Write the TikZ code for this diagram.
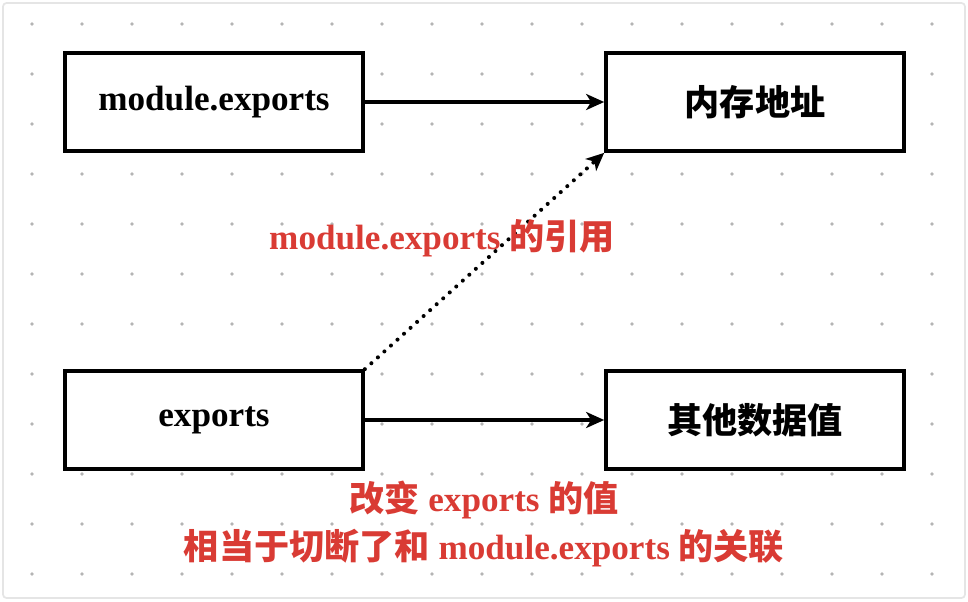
\documentclass[tikz,border=0pt]{standalone}
\usepackage{fontspec}
\setmainfont{Liberation Serif}
\newfontfamily\cjk{Noto Sans CJK SC}
\usetikzlibrary{arrows.meta}

\definecolor{notered}{HTML}{D93B34}
\definecolor{griddot}{HTML}{B4B4B4}
\newcommand{\zh}[1]{{\cjk #1}}

\tikzset{
  box/.style={draw, line width=2.4pt, fill=white, minimum width=5.95cm, minimum height=1.95cm,
    font=\fontsize{20}{24}\selectfont\bfseries},
  note/.style={text=notered, align=center, font=\fontsize{20}{27}\selectfont\bfseries},
  link/.style={line width=2pt, -{Stealth[length=0.36cm, width=0.32cm, inset=0.1cm]}},
}

\begin{document}
\begin{tikzpicture}[x=0.02cm, y=-0.02cm]
    \useasboundingbox (0,0) rectangle (968,602);
    % Frame and dotted grid
    \draw [gray!20, line width=1pt, rounded corners=2] (3,3) rectangle (965,598);
    \foreach \gx in {32,82,...,932}
        \foreach \gy in {24,74,...,574}
            \fill [griddot] (\gx,\gy) circle (1.9);

    % Boxes
    \node [box] (modexp) at (214,102) {module.exports};
    \node [box] (memaddr) at (755,102) {\zh{内存地址}};
    \node [box] (exp) at (214,420) {exports};
    \node [box] (otherval) at (755,420) {\zh{其他数据值}};

    \draw [link] (modexp) -- (memaddr);
    \draw [link] (exp) -- (otherval);
    \draw [link, line width=2.3pt, dash pattern=on 0.01pt off 5pt, line cap=round] (exp.north east) -- (memaddr.south west);

    % Notes
    \node [note] (refnote) at (442,238) {module.exports \zh{的引用}};
    \node [note] (cutnote) at (484,524) {\zh{改变} exports \zh{的值}\\ \zh{相当于切断了和} module.exports \zh{的关联}};
\end{tikzpicture}
\end{document}
